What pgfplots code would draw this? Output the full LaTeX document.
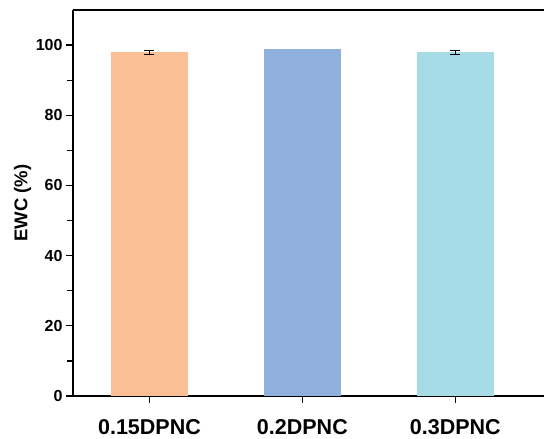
\documentclass[border=0pt]{standalone}
\usepackage{fontspec}
\setmainfont{Liberation Sans}
\usepackage{pgfplots}
\pgfplotsset{compat=1.18}

\definecolor{barA}{RGB}{251,191,149}
\definecolor{barB}{RGB}{143,175,220}
\definecolor{barC}{RGB}{167,220,230}

\begin{document}
\begin{tikzpicture}
\begin{axis}[
    scale only axis,
    width=471pt, height=386pt,
    xmin=0.5, xmax=3.58,
    ymin=0, ymax=110,
    axis lines=left,
    axis line style={line width=1.4pt, -},
    xtick={1,2,3},
    xticklabels={0.15DPNC,0.2DPNC,0.3DPNC},
    ytick={0,20,...,100},
    minor ytick={10,30,...,90},
    tick style={black, line width=1.2pt},
    tickwidth=7pt, subtickwidth=6pt,
    tick align=outside,
    x tick label style={font=\bfseries\fontsize{21.5}{24}\selectfont, anchor=base, inner sep=0pt, yshift=-32pt},
    y tick label style={font=\bfseries\fontsize{16}{18}\selectfont},
    /pgf/number format/assume math mode=true,
    ylabel={EWC (\%)},
    ylabel style={font=\bfseries\fontsize{18.5}{22}\selectfont, at={(axis description cs:-0.107,0.5)}, anchor=center},
    ybar, bar width=77pt, bar shift=0pt,
]
\addplot[draw=none, fill=barA, error bars/.cd, y dir=both, y explicit,
    error bar style={black, line width=1.2pt}, error mark options={rotate=90, mark size=5pt, line width=1.2pt, black}]
    coordinates {(1,97.9) +- (0,0.5)};
\addplot[draw=none, fill=barB] coordinates {(2,98.8)};
\addplot[draw=none, fill=barC, error bars/.cd, y dir=both, y explicit,
    error bar style={black, line width=1.2pt}, error mark options={rotate=90, mark size=5pt, line width=1.2pt, black}]
    coordinates {(3,97.9) +- (0,0.5)};
\draw[line width=1.4pt] (rel axis cs:0,1) -- (rel axis cs:1,1);
\end{axis}
\pgfresetboundingbox
\path (-73pt,-43pt) rectangle (471pt,396pt);
\end{tikzpicture}
\end{document}
